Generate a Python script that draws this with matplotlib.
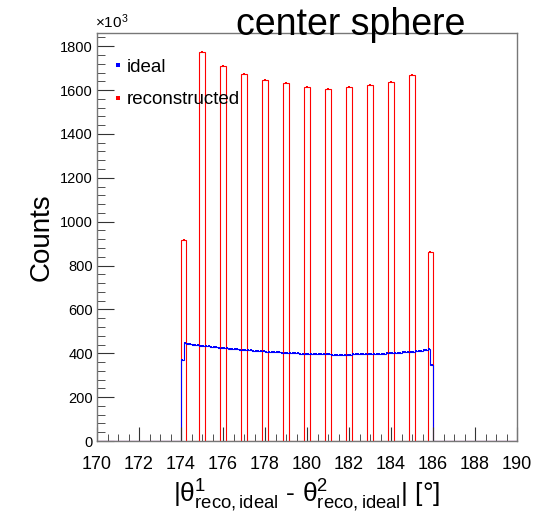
import numpy as np
import matplotlib.pyplot as plt
from matplotlib.lines import Line2D
from matplotlib.ticker import MultipleLocator

plt.rcParams['font.family'] = ['Liberation Sans', 'DejaVu Sans']
plt.rcParams['mathtext.fontset'] = 'custom'
plt.rcParams['mathtext.rm'] = 'Liberation Sans'
plt.rcParams['mathtext.it'] = 'Liberation Sans:italic'

# opening angle between the two reconstructed directions, counts in units of 10^3
x_range = (170, 190)
ideal_lo, ideal_hi, ideal_bin = 174.0, 186.0, 0.125
ideal_counts = [
    368, 445, 443, 441, 440, 438, 437, 435,
    434, 432, 431, 430, 428, 427, 426, 425,
    424, 423, 421, 420, 419, 418, 417, 416,
    415, 414, 413, 412, 411, 410, 409, 409,
    408, 407, 406, 405, 405, 404, 403, 403,
    402, 401, 401, 400, 400, 399, 399, 398,
    398, 397, 397, 396, 396, 396, 395, 395,
    395, 394, 394, 394, 394, 394, 394, 394,
    394, 395, 395, 395, 395, 396, 396, 396,
    397, 397, 398, 398, 399, 399, 400, 400,
    401, 402, 402, 403, 404, 405, 406, 407,
    408, 409, 410, 412, 414, 416, 419, 346,
]

# reconstructed angles pile up in narrow bins around whole degrees
reco_centers = [174.125, 175, 176, 177, 178, 179, 180, 181, 182, 183, 184, 185, 185.875]
reco_counts = [918, 1772, 1708, 1675, 1648, 1630, 1616, 1606, 1612, 1621, 1639, 1669, 860]
reco_width = 0.25


def ideal_histogram():
    edges = np.arange(ideal_lo, ideal_hi + ideal_bin / 2, ideal_bin)
    full_edges = np.concatenate([[x_range[0]], edges, [x_range[1]]])
    full_vals = np.concatenate([[0], ideal_counts, [0]])
    centers = 0.5 * (edges[:-1] + edges[1:])
    return full_edges, full_vals, centers


def reco_histogram():
    edges = [x_range[0]]
    vals = []
    for c, n in zip(reco_centers, reco_counts):
        edges += [c - reco_width / 2, c + reco_width / 2]
        vals += [0, n]
    edges.append(x_range[1])
    vals.append(0)
    return np.array(edges), np.array(vals)


fig = plt.figure(figsize=(5.36, 5.16), dpi=100)
ax = fig.add_axes([0.181, 0.1453, 0.7836, 0.7907])

r_edges, r_vals = reco_histogram()
ax.stairs(r_vals, r_edges, color='red', lw=0.8)
ax.plot(reco_centers, reco_counts, 's', color='red', ms=2, mew=0)

b_edges, b_vals, b_centers = ideal_histogram()
ax.stairs(b_vals, b_edges, color='blue', lw=0.8)
ax.plot(b_centers, ideal_counts, 's', color='blue', ms=2, mew=0)

ax.set_xlim(*x_range)
ax.set_ylim(0, 1860)

ax.xaxis.set_major_locator(MultipleLocator(2))
ax.xaxis.set_minor_locator(MultipleLocator(0.5))
ax.yaxis.set_major_locator(MultipleLocator(200))
ax.yaxis.set_minor_locator(MultipleLocator(40))
ax.tick_params(which='both', direction='in', top=False, right=False, colors='#333333')
ax.tick_params(axis='x', which='major', length=10, labelsize=13, pad=11)
ax.tick_params(axis='x', which='minor', length=5)
ax.tick_params(axis='y', which='major', length=12, labelsize=10.5, pad=3)
ax.tick_params(axis='y', which='minor', length=6)
ax.tick_params(labelcolor='black')
for s in ax.spines.values():
    s.set_color('#777777')
    s.set_linewidth(1.0)

ax.set_ylabel('Counts', fontsize=20, labelpad=4)
ax.set_xlabel(r'$|\mathrm{θ}^{1}_{\mathrm{reco,ideal}}$ - $\mathrm{θ}^{2}_{\mathrm{reco,ideal}}|$ [°]',
              fontsize=19, labelpad=3)
ax.text(-0.005, 1.005, r'×10$^{3}$', transform=ax.transAxes, fontsize=11,
        ha='left', va='bottom')
fig.text(0.655, 0.952, 'center sphere', fontsize=27, ha='center', va='center')

handles = [
    Line2D([], [], color='blue', marker='s', ls='none', ms=2.5, mew=0),
    Line2D([], [], color='red', marker='s', ls='none', ms=2.5, mew=0),
]
ax.legend(handles, ['ideal', 'reconstructed'], loc='upper left', frameon=False,
          fontsize=13.5, handlelength=0.3, handletextpad=0.3, labelspacing=0.8,
          borderaxespad=0, bbox_to_anchor=(0.025, 0.955))

fig.savefig('out.png', dpi=100)
